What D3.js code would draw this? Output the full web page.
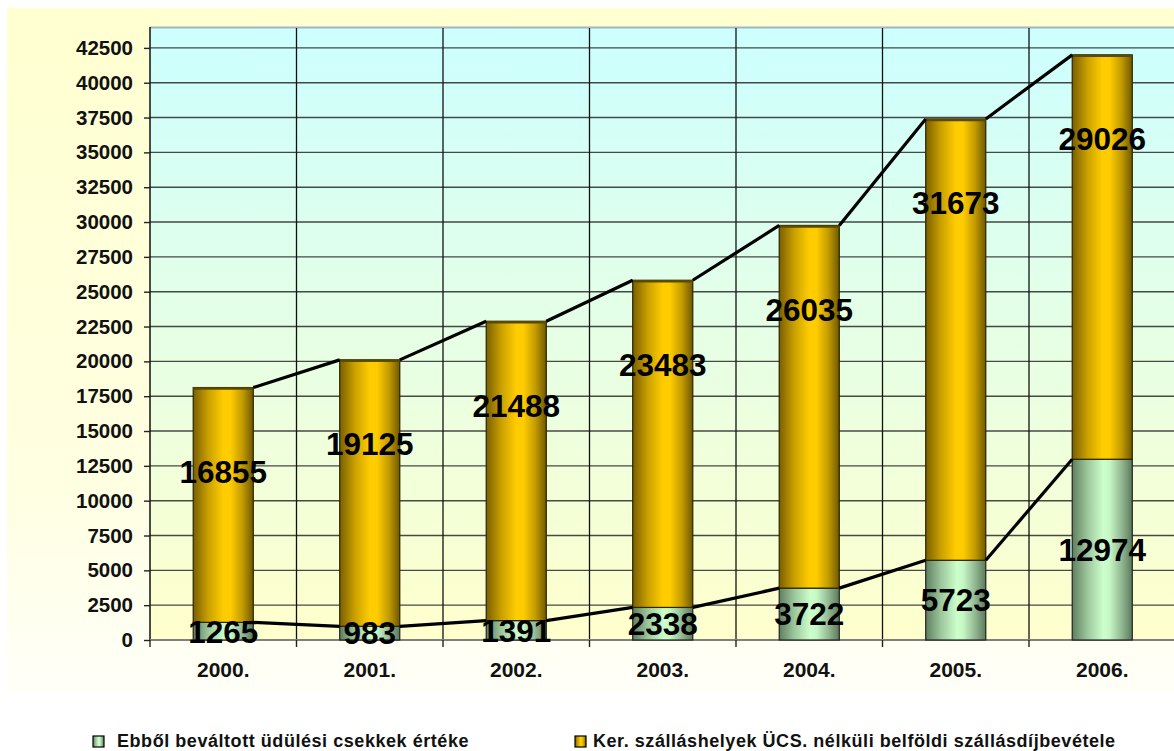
<!DOCTYPE html>
<html>
<head>
<meta charset="utf-8">
<script src="https://cdn.jsdelivr.net/npm/d3@7"></script>
<style>
  html, body { margin: 0; padding: 0; background: #ffffff; }
  svg { display: block; }
  text { font-family: "Liberation Sans", Arial, sans-serif; font-weight: bold; }
</style>
</head>
<body>
<svg id="chart" width="1174" height="751"></svg>
<script>
// ---- data ----
const years = ["2000.", "2001.", "2002.", "2003.", "2004.", "2005.", "2006."];
const voucherValues = [1265, 983, 1391, 2338, 3722, 5723, 12974];
const otherValues = [16855, 19125, 21488, 23483, 26035, 31673, 29026];
const yTicks = [0, 2500, 5000, 7500, 10000, 12500, 15000, 17500, 20000, 22500, 25000, 27500, 30000, 32500, 35000, 37500, 40000, 42500];
const seriesNames = ["Ebből beváltott üdülési csekkek értéke", "Ker. szálláshelyek ÜCS. nélküli belföldi szállásdíjbevétele"];

const svg = d3.select("#chart");
const W = 1174, H = 751;
const plot = { left: 150, right: 1175.5, top: 27, bottom: 640 };

const defs = svg.append("defs");
// outer background
const gOuter = defs.append("linearGradient").attr("id", "outerBg").attr("x1", 0).attr("y1", 0).attr("x2", 0).attr("y2", 1);
gOuter.append("stop").attr("offset", "0%").attr("stop-color", "#FFFFD0");
gOuter.append("stop").attr("offset", "70%").attr("stop-color", "#FFFFE2");
gOuter.append("stop").attr("offset", "100%").attr("stop-color", "#FFFFF8");
// plot background
const gPlot = defs.append("linearGradient").attr("id", "plotBg").attr("x1", 0).attr("y1", 0).attr("x2", 0).attr("y2", 1);
gPlot.append("stop").attr("offset", "0%").attr("stop-color", "#CCFFFF");
gPlot.append("stop").attr("offset", "100%").attr("stop-color", "#FFFFCC");
// bar gradients
const gOr = defs.append("linearGradient").attr("id", "orangeBar").attr("x1", 0).attr("y1", 0).attr("x2", 1).attr("y2", 0);
[["0%", "#7A5F00"], ["25%", "#C9A000"], ["50%", "#FFCC00"], ["62%", "#FFCC00"], ["82%", "#C29B00"], ["100%", "#6E5800"]]
  .forEach(s => gOr.append("stop").attr("offset", s[0]).attr("stop-color", s[1]));
const gGr = defs.append("linearGradient").attr("id", "greenBar").attr("x1", 0).attr("y1", 0).attr("x2", 1).attr("y2", 0);
[["0%", "#5F7F5F"], ["25%", "#9CC69C"], ["52%", "#CCFFCC"], ["62%", "#C6F8C6"], ["82%", "#93B893"], ["100%", "#5A7A5A"]]
  .forEach(s => gGr.append("stop").attr("offset", s[0]).attr("stop-color", s[1]));

// outer area
svg.append("rect").attr("x", 7).attr("y", 8).attr("width", W - 7).attr("height", 685).attr("fill", "url(#outerBg)");

// scales
const x = d3.scaleBand().domain(years).range([plot.left, plot.right]).paddingInner(0).paddingOuter(0);
const y = d3.scaleLinear().domain([0, 44000]).range([plot.bottom, plot.top]);
const barW = x.bandwidth() * 0.41;

// plot background
svg.append("rect").attr("x", plot.left).attr("y", plot.top)
  .attr("width", plot.right - plot.left).attr("height", plot.bottom - plot.top)
  .attr("fill", "url(#plotBg)");
svg.append("line").attr("x1", plot.left).attr("x2", plot.right).attr("y1", plot.top + 0.5).attr("y2", plot.top + 0.5)
  .attr("stroke", "#9FB7C0").attr("stroke-width", 2);

// horizontal grid
svg.append("g").selectAll("line").data(yTicks.filter(t => t > 0)).join("line")
  .attr("x1", plot.left).attr("x2", plot.right)
  .attr("y1", d => y(d)).attr("y2", d => y(d))
  .attr("stroke", "#2a2a2a").attr("stroke-width", 1.4).attr("opacity", 0.85);
// vertical grid
svg.append("g").selectAll("line").data(years.slice(1)).join("line")
  .attr("x1", d => x(d)).attr("x2", d => x(d))
  .attr("y1", plot.top + 1).attr("y2", plot.bottom)
  .attr("stroke", "#111").attr("stroke-width", 1.3);

// y axis
const yAxis = d3.axisLeft(y).tickValues(yTicks).tickSize(6).tickPadding(11).tickFormat(d3.format("d"));
const gy = svg.append("g").attr("transform", `translate(${plot.left},0)`).call(yAxis);
gy.select(".domain").attr("stroke", "#111").attr("stroke-width", 1.5).attr("d", `M0,${plot.top}V${plot.bottom}`);
gy.selectAll(".tick line").attr("stroke", "#222").attr("stroke-width", 1.4);
gy.selectAll(".tick text").attr("font-size", 20.5).attr("font-weight", "bold").attr("fill", "#111")
  .attr("font-family", "Liberation Sans, Arial, sans-serif");

// x axis
const xAxis = d3.axisBottom(x).tickSize(0).tickPadding(22);
const gx = svg.append("g").attr("transform", `translate(0,${plot.bottom})`).call(xAxis);
gx.select(".domain").remove();
gx.selectAll(".tick text").attr("font-size", 21).attr("font-weight", "bold").attr("fill", "#111")
  .attr("font-family", "Liberation Sans, Arial, sans-serif");
svg.append("line").attr("x1", plot.left).attr("x2", plot.right).attr("y1", plot.bottom).attr("y2", plot.bottom)
  .attr("stroke", "#808080").attr("stroke-width", 2.2);
svg.append("g").selectAll("line").data(years.concat(["end"])).join("line")
  .attr("x1", (d, i) => plot.left + i * x.bandwidth()).attr("x2", (d, i) => plot.left + i * x.bandwidth())
  .attr("y1", plot.bottom).attr("y2", plot.bottom + 7)
  .attr("stroke", "#222").attr("stroke-width", 1.4);

// bars
const data = years.map((yr, i) => ({ yr, v1: voucherValues[i], v2: otherValues[i], total: voucherValues[i] + otherValues[i] }));
const cx = d => x(d.yr) + x.bandwidth() / 2;

const gBars = svg.append("g");
gBars.selectAll("rect.green").data(data).join("rect").attr("class", "green")
  .attr("x", d => cx(d) - barW / 2).attr("width", barW)
  .attr("y", d => y(d.v1)).attr("height", d => y(0) - y(d.v1))
  .attr("fill", "url(#greenBar)").attr("stroke", "#222").attr("stroke-width", 1.2);
gBars.selectAll("rect.orange").data(data).join("rect").attr("class", "orange")
  .attr("x", d => cx(d) - barW / 2).attr("width", barW)
  .attr("y", d => y(d.total)).attr("height", d => y(d.v1) - y(d.total))
  .attr("fill", "url(#orangeBar)").attr("stroke", "#2a2400").attr("stroke-width", 1.2);
// top rim
gBars.selectAll("line.rim").data(data).join("line").attr("class", "rim")
  .attr("x1", d => cx(d) - barW / 2).attr("x2", d => cx(d) + barW / 2)
  .attr("y1", d => y(d.total) + 1).attr("y2", d => y(d.total) + 1)
  .attr("stroke", "#5a4a00").attr("stroke-width", 2.5);

// series lines
const seg = (acc) => data.slice(0, -1).map((d, i) => {
  const n = data[i + 1];
  return [[cx(d) + barW / 2, y(acc(d))], [cx(n) - barW / 2, y(acc(n))]];
});
const gLines = svg.append("g");
gLines.selectAll("line.s1").data(seg(d => d.v1)).join("line").attr("class", "s1")
  .attr("x1", s => s[0][0]).attr("y1", s => s[0][1]).attr("x2", s => s[1][0]).attr("y2", s => s[1][1])
  .attr("stroke", "#000").attr("stroke-width", 3.2);
gLines.selectAll("line.s2").data(seg(d => d.total)).join("line").attr("class", "s2")
  .attr("x1", s => s[0][0]).attr("y1", s => s[0][1]).attr("x2", s => s[1][0]).attr("y2", s => s[1][1])
  .attr("stroke", "#000").attr("stroke-width", 3.2);

// labels
const gLab = svg.append("g").attr("font-size", 31.5).attr("fill", "#000").attr("text-anchor", "middle");
gLab.selectAll("text.l1").data(data).join("text").attr("class", "l1")
  .attr("x", d => cx(d)).attr("y", d => y(d.v1 / 2)).attr("dy", "0.36em")
  .text(d => d.v1);
gLab.selectAll("text.l2").data(data).join("text").attr("class", "l2")
  .attr("x", d => cx(d)).attr("y", d => y(d.total) + 84).attr("dy", "0.36em")
  .text(d => d.v2);

// legend
const legend = [
  { name: seriesNames[0], fill: "url(#greenBar)", mx: 93, tx: 117 },
  { name: seriesNames[1], fill: "url(#orangeBar)", mx: 575, tx: 593 }
];
const gLeg = svg.append("g");
legend.forEach(l => {
  gLeg.append("rect").attr("x", l.mx).attr("y", 736).attr("width", 11).attr("height", 11)
    .attr("fill", l.fill).attr("stroke", "#000").attr("stroke-width", 1.2);
  gLeg.append("text").attr("x", l.tx).attr("y", 746.5).attr("font-size", 18)
    .attr("letter-spacing", 0.55).attr("fill", "#111").text(l.name);
});
</script>
</body>
</html>
